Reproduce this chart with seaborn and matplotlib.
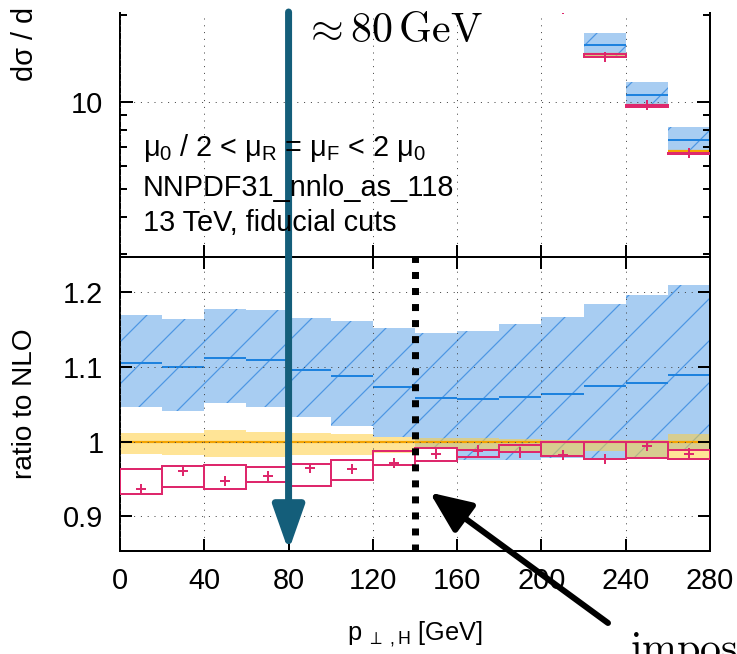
import numpy as np
import matplotlib
matplotlib.use("Agg")
import matplotlib.pyplot as plt
import matplotlib.transforms as mtransforms
from matplotlib.ticker import FixedLocator, NullFormatter, LogLocator, FixedFormatter
import seaborn as sns

# ------------------------------------------------------------------ data
bin_edges = [0, 20, 40, 60, 80, 100, 120, 140, 160, 180, 200, 220, 240, 260, 280]

# NNLO / NLO (blue, hatched band + central line)
nnlo_ratio_lo  = [1.046, 1.041, 1.052, 1.047, 1.0325, 1.021, 1.006, 0.991, 0.976, 0.976, 0.978, 0.978, 0.978, 0.989]
nnlo_ratio_mid = [1.106, 1.100, 1.1115, 1.109, 1.096, 1.088, 1.073, 1.059, 1.057, 1.060, 1.064, 1.074, 1.079, 1.089]
nnlo_ratio_hi  = [1.169, 1.164, 1.178, 1.177, 1.166, 1.162, 1.152, 1.145, 1.148, 1.158, 1.167, 1.185, 1.196, 1.210]

# NLO scale band (yellow) relative to NLO central
nlo_ratio_lo = [0.984, 0.9826, 0.9795, 0.9795, 0.9826, 0.9826, 0.985, 0.990, 0.989, 0.986, 0.981, 0.987, 0.978, 0.976]
nlo_ratio_hi = [1.0117, 1.0117, 1.0151, 1.013, 1.0117, 1.0103, 1.0063, 1.005, 1.005, 1.004, 1.002, 1.002, 1.002, 1.011]

# pink prediction: boxes and points with error bars
pink_box_lo = [0.9295, 0.940, 0.9366, 0.9455, 0.941, 0.949, 0.969, 0.9736, 0.980, 0.9857, 0.981, 0.977, 0.978, 0.9767]
pink_box_hi = [0.9634, 0.968, 0.969, 0.9656, 0.970, 0.976, 0.987, 0.9915, 0.989, 0.996, 1.000, 1.000, 0.999, 0.989]
pink_point  = [0.937, 0.961, 0.948, 0.9536, 0.9647, 0.9638, 0.972, 0.9835, 0.987, 0.9857, 0.982, 0.977, 0.9937, 0.984]
pink_err    = [0.006, 0.006, 0.0065, 0.0075, 0.0067, 0.0067, 0.0067, 0.007, 0.008, 0.007, 0.007, 0.007, 0.006, 0.007]

# absolute NLO cross section of the bins visible in the upper panel (200-280 GeV)
top_first_bin = 10
nlo_xsec_top = [21.3, 14.6, 9.80, 6.77]

x_ticks = [0, 40, 80, 120, 160, 200, 240, 280]
ratio_ticks = [0.9, 1.0, 1.1, 1.2]
ratio_tick_labels = ["0.9", "1", "1.1", "1.2"]
top_major_ticks = [10]
top_major_labels = ["10"]

info_lines = [r"$μ_0$ / 2 < $μ_R$ = $μ_F$ < 2 $μ_0$",
              "NNPDF31_nnlo_as_118",
              "13 TeV, fiducial cuts"]
w_mark = 80      # GeV, arrow
cut_mark = 140   # GeV, dotted line

# ------------------------------------------------------------------ style
W, H, DPI = 737, 654, 126
PT = 72.0 / DPI          # points per pixel

sns.set_theme(style="ticks")
plt.rcParams.update({
    "font.family": ["Liberation Sans", "DejaVu Sans"],
    "mathtext.fontset": "custom",
    "mathtext.rm": "Liberation Sans",
    "mathtext.it": "Liberation Sans",
    "mathtext.bf": "Liberation Sans:bold",
    "mathtext.sf": "Liberation Sans",
    "hatch.linewidth": 0.7,
    "hatch.color": "#4d97e3",
    "axes.edgecolor": "black",
    "axes.labelcolor": "black",
    "text.color": "black",
    "axes.linewidth": 2 * PT,
    "xtick.color": "black",
    "ytick.color": "black",
    "xtick.labelcolor": "black",
    "ytick.labelcolor": "black",
    "xtick.direction": "in",
    "ytick.direction": "in",
})

BLUE_FILL = "#a8cdf2"
BLUE_HATCH = "#4d97e3"
BLUE_LINE = "#1e82de"
YELLOW = "#ffce40"
ORANGE = "#f4a300"
PINK = "#de286c"
TEAL = "#145e7a"
GRID = "#444444"

fs_tick = 16.5
fs_text = 16.5

def fx(px):
    return px / W

def fy(py):
    return 1.0 - py / H

fig = plt.figure(figsize=(W / DPI, H / DPI), dpi=DPI)
fig.patch.set_facecolor("white")

ax_t = fig.add_axes([fx(120), fy(257), fx(710) - fx(120), fy(13) - fy(257)])
ax_r = fig.add_axes([fx(120), fy(551), fx(710) - fx(120), fy(257) - fy(551)])

edges = np.array(bin_edges, dtype=float)
centers = 0.5 * (edges[:-1] + edges[1:])


def step_band(ax, e, lo, hi, **kw):
    lo = np.asarray(lo, float)
    hi = np.asarray(hi, float)
    ax.fill_between(e, np.append(lo, lo[-1]), np.append(hi, hi[-1]), step="post", **kw)


def draw_panel(ax, e, b_lo, b_mid, b_hi, y_lo, y_mid, y_hi, p_lo, p_hi, pt, perr):
    c = 0.5 * (e[:-1] + e[1:])
    w = np.diff(e)
    step_band(ax, e, b_lo, b_hi, facecolor=BLUE_FILL, edgecolor=BLUE_HATCH,
              hatch="/", linewidth=0, zorder=1)
    ax.hlines(b_mid, e[:-1], e[1:], color=BLUE_LINE, lw=2 * PT, zorder=1.6)
    step_band(ax, e, y_lo, y_hi, facecolor=YELLOW, alpha=0.55, linewidth=0, zorder=1.7)
    ax.hlines(y_mid, e[:-1], e[1:], color=ORANGE, lw=2.2 * PT, zorder=1.8)
    ax.bar(e[:-1], np.asarray(p_hi) - np.asarray(p_lo), width=w, bottom=p_lo,
           align="edge", fill=False, edgecolor=PINK, linewidth=2 * PT, zorder=3)
    ax.errorbar(c, pt, yerr=perr, fmt="none", ecolor=PINK, elinewidth=2 * PT,
                capsize=0, zorder=4)
    sns.scatterplot(x=c, y=pt, marker="+", s=(10 * PT) ** 2, color=PINK,
                    linewidth=2 * PT, ax=ax, zorder=4, legend=False)


# ---------------- ratio panel
draw_panel(ax_r, edges, nnlo_ratio_lo, nnlo_ratio_mid, nnlo_ratio_hi,
           nlo_ratio_lo, np.ones(len(centers)), nlo_ratio_hi,
           pink_box_lo, pink_box_hi, pink_point, pink_err)

# ---------------- upper panel (absolute, only the last bins are in view)
sl = slice(top_first_bin, None)
nlo_top = np.array(nlo_xsec_top)
e_top = edges[top_first_bin:]
draw_panel(ax_t, e_top,
           nlo_top * np.array(nnlo_ratio_lo[sl]), nlo_top * np.array(nnlo_ratio_mid[sl]),
           nlo_top * np.array(nnlo_ratio_hi[sl]),
           nlo_top * np.array(nlo_ratio_lo[sl]), nlo_top, nlo_top * np.array(nlo_ratio_hi[sl]),
           nlo_top * np.array(pink_box_lo[sl]), nlo_top * np.array(pink_box_hi[sl]),
           nlo_top * np.array(pink_point[sl]), nlo_top * np.array(pink_err[sl]))

# ---------------- axes formatting
grid_kw = dict(color=GRID, lw=1 * PT, linestyle=(0, (1.0, 5.8)))

for ax in (ax_t, ax_r):
    ax.set_xlim(0, 280)
    ax.xaxis.set_major_locator(FixedLocator(x_ticks))
    ax.set_axisbelow(False)
    ax.grid(True, which="major", **grid_kw)
    ax.set_xlabel("")
    ax.set_ylabel("")
    for s in ax.spines.values():
        s.set_linewidth(2 * PT)
        s.set_color("black")

# upper
ax_t.set_yscale("log")
ax_t.set_ylim(2.921, 20.27)
ax_t.yaxis.set_major_locator(FixedLocator(top_major_ticks))
ax_t.yaxis.set_major_formatter(FixedFormatter(top_major_labels))
ax_t.yaxis.set_minor_locator(LogLocator(base=10, subs=np.arange(2, 10)))
ax_t.yaxis.set_minor_formatter(NullFormatter())
ax_t.spines["top"].set_visible(False)
ax_t.tick_params(axis="x", which="both", bottom=True, top=False, labelbottom=False,
                 direction="in", length=12 * PT, width=2 * PT)
ax_t.tick_params(axis="y", which="major", left=True, right=True, direction="in",
                 length=13 * PT, width=2 * PT, labelsize=fs_tick, pad=9.5)
ax_t.tick_params(axis="y", which="minor", left=True, right=True, direction="in",
                 length=7 * PT, width=2 * PT)
ax_t.set_ylabel("dσ / d", fontsize=fs_text)
ax_t.yaxis.label.set_ha("left")
ax_t.yaxis.label.set_va("center")
ax_t.yaxis.set_label_coords((25 - 120) / 590, (257 - 81) / 244)
ax_t.set_facecolor("white")

# ratio
ax_r.set_ylim(0.8537, 1.2473)
ax_r.set_yticks(ratio_ticks, labels=ratio_tick_labels)
ax_r.tick_params(axis="x", which="major", bottom=True, top=True, direction="in",
                 length=12 * PT, width=2 * PT, labelsize=fs_tick, pad=9)
ax_r.tick_params(axis="y", which="major", left=True, right=True, direction="in",
                 length=12 * PT, width=2 * PT, labelsize=fs_tick, pad=9.5)
ax_r.minorticks_off()
ax_r.set_xticks(x_ticks, labels=[str(v) for v in x_ticks])
ax_r.set_ylabel("ratio to NLO", fontsize=16)
ax_r.yaxis.label.set_va("center")
ax_r.yaxis.set_label_coords((25 - 120) / 590, 0.5)
ax_r.set_xlabel(r"$p_{\ \perp\ ,H}$ [GeV]", fontsize=14.5)
ax_r.xaxis.label.set_va("baseline")
ax_r.xaxis.set_label_coords(0.5, (551 - 640) / 294)

# dotted cut line
ax_r.axvline(cut_mark, color="black", lw=7 * PT, linestyle=(0, (1.0, 1.29)),
             dash_capstyle="butt", zorder=5)

# info text in upper panel
for line, base in zip(info_lines, [156, 196, 231]):
    fig.text(fx(143), fy(base), line, fontsize=fs_text, ha="left", va="baseline",
             color="black")

# teal arrow at ~80 GeV
blend = mtransforms.blended_transform_factory(ax_r.transData, fig.transFigure)
ax_r.annotate("", xy=(w_mark, 0.8537), xycoords="data",
              xytext=(w_mark, fy(12)), textcoords=blend,
              arrowprops=dict(arrowstyle="-|>,head_length=1.08,head_width=0.38",
                              mutation_scale=20, color=TEAL, lw=7 * PT,
                              shrinkA=0, shrinkB=0),
              annotation_clip=False, zorder=10)
fig.text(fx(303), fy(42), r"$\approx 80\,\mathrm{GeV}$", fontsize=24,
         math_fontfamily="cm", ha="left", va="baseline", color="black")

# black arrow to the cut
ax_r.annotate("", xy=(147, 0.932), xycoords="data",
              xytext=(608, H - 623), textcoords="figure pixels",
              arrowprops=dict(arrowstyle="-|>,head_length=1.0,head_width=0.43",
                              mutation_scale=20, color="black", lw=6 * PT,
                              shrinkA=0, shrinkB=0),
              annotation_clip=False, zorder=10)
fig.text(fx(630), fy(661), r"$\mathrm{impos}$", fontsize=24,
         math_fontfamily="cm", ha="left", va="baseline", color="black")

fig.savefig("out.png", dpi=DPI, facecolor="white")
